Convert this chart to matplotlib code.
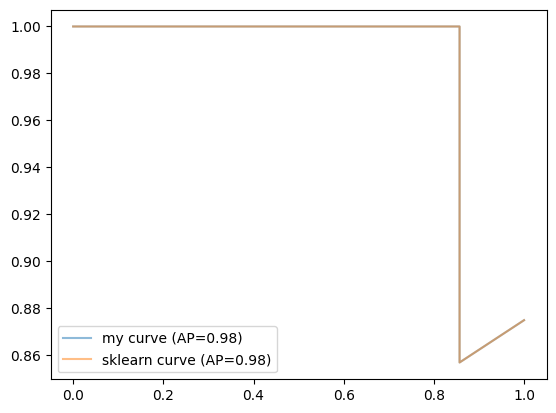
import matplotlib
matplotlib.use("Agg")
import matplotlib.pyplot as plt

# precision / recall points
my_recall = [0.0, 0.857, 0.857, 1.0]
my_precision = [1.0, 1.0, 0.857, 0.875]
sk_recall = [0.0, 0.857, 0.857, 1.0]
sk_precision = [1.0, 1.0, 0.857, 0.875]
my_ap = 0.98
sk_ap = 0.98

plt.figure(figsize=(6.4, 4.8))
plt.plot(my_recall, my_precision, alpha=0.5, label=f'my curve (AP={my_ap:.2f})')
plt.plot(sk_recall, sk_precision, alpha=0.5, label=f'sklearn curve (AP={sk_ap:.2f})')
plt.legend()
plt.savefig('out.png', dpi=100, bbox_inches='tight')
